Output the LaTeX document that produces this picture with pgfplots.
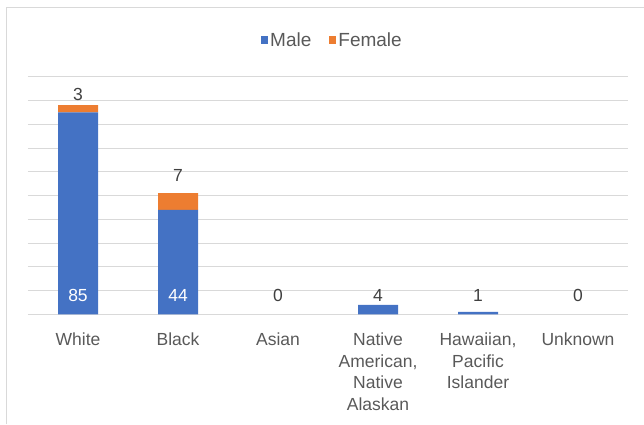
\documentclass[border=0pt]{standalone}
\usepackage{fontspec}
\setmainfont{Liberation Sans}
\usepackage{pgfplots}
\pgfplotsset{compat=1.18}
\definecolor{maleblue}{HTML}{4472C4}
\definecolor{femaleorange}{HTML}{ED7D31}
\definecolor{gridgray}{HTML}{D9D9D9}
\definecolor{labelgray}{HTML}{595959}
\definecolor{numgray}{HTML}{404040}
\newcommand{\chartfont}{\fontsize{17.5}{21.6}\selectfont}
\newcommand{\legfont}{\fontsize{19}{22}\selectfont}
\begin{document}
\begin{tikzpicture}[x=1pt,y=1pt]
\path[use as bounding box] (0,0) rectangle (644,424);
\draw[gridgray, line width=1pt] (6,0) -- (6,416) -- (644,416);
\begin{axis}[
  at={(28pt,109.7pt)}, anchor=south west,
  scale only axis, width=600pt, height=237.6pt,
  xmin=-0.5, xmax=5.5, ymin=0, ymax=100,
  ybar stacked, bar width=40pt,
  ytick={0,10,...,100}, yticklabels={},
  ymajorgrids, grid style={gridgray, line width=0.9pt},
  axis line style={draw=none},
  major tick length=0pt, tick style={draw=none},
  xtick={0,1,2,3,4,5},
  xticklabels={White, Black, Asian, {Native\\American,\\Native\\Alaskan}, {Hawaiian,\\Pacific\\Islander}, Unknown},
  x tick label style={align=center, font=\chartfont, text=labelgray, anchor=north, yshift=-15pt},
  clip=false,
  legend style={at={(0.5,1)}, anchor=south, yshift=25pt, xshift=4.5pt, draw=none, fill=none,
    font=\legfont, text=labelgray, legend columns=2,
    /tikz/every odd column/.append style={column sep=0pt},
    /tikz/every even column/.append style={column sep=16pt}},
  legend image code/.code={\fill[#1] (0pt,-4pt) rectangle (7pt,4pt);},
]
\addplot[fill=maleblue, draw=none] coordinates {(0,85) (1,44) (2,0) (3,4) (4,1) (5,0)};
\addplot[fill=femaleorange, draw=none] coordinates {(0,3) (1,7) (2,0) (3,0) (4,0) (5,0)};
\legend{Male, Female}
\end{axis}
\begin{axis}[
  at={(28pt,109.7pt)}, anchor=south west,
  scale only axis, width=600pt, height=237.6pt,
  xmin=-0.5, xmax=5.5, ymin=0, ymax=100,
  hide axis, clip=false,
]
\addplot[draw=none, nodes near coords, point meta=explicit symbolic,
  every node near coord/.append style={anchor=center, font=\chartfont, text=white}]
  coordinates {(0,8.1)[85] (1,8.1)[44]};
\addplot[draw=none, nodes near coords, point meta=explicit symbolic,
  every node near coord/.append style={anchor=center, font=\chartfont, text=numgray}]
  coordinates {(2,8.1)[0] (3,8.1)[4] (4,8.1)[1] (5,8.1)[0] (0,92.7)[3] (1,58.6)[7]};
\end{axis}
\end{tikzpicture}
\end{document}
